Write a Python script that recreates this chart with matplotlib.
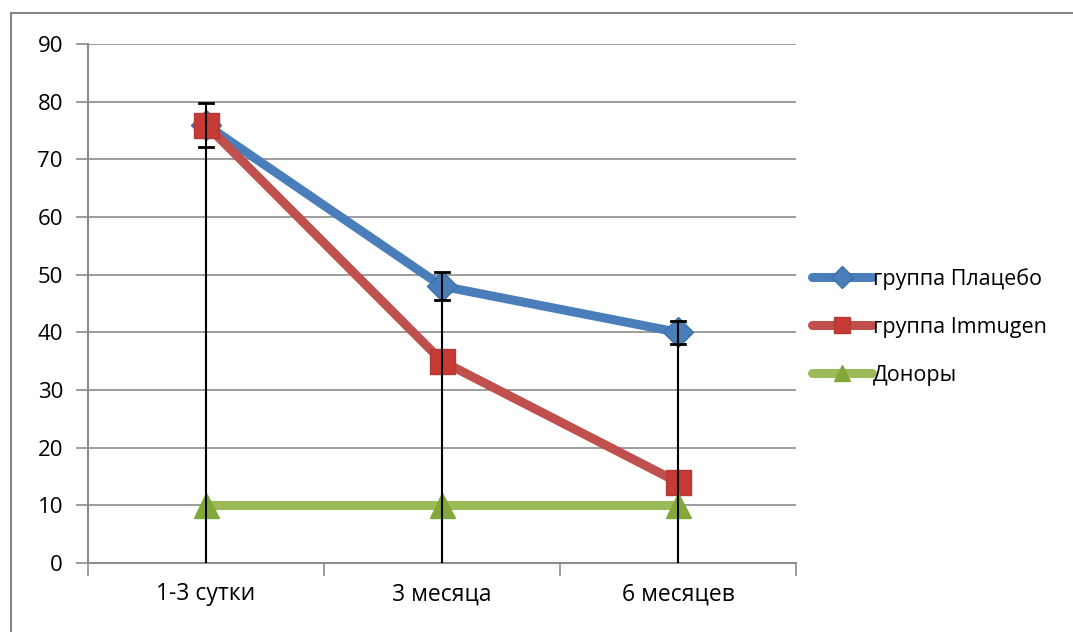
import matplotlib.pyplot as plt
import numpy as np

# data
categories = ['1-3 сутки', '3 месяца', '6 месяцев']
placebo = [76, 48, 40]
placebo_err = [3.8, 2.4, 2.0]
immugen = [76, 35, 14]
donors = [10, 10, 10]

plt.rcParams['font.family'] = ['Open Sans', 'DejaVu Sans']

fig = plt.figure(figsize=(10.73, 6.32), dpi=100)
ax = fig.add_axes([88 / 1073, 69 / 632, 708 / 1073, 519 / 632])

# outer chart border (right/bottom edges are cut off in the original)
fig.add_artist(plt.Line2D([11 / 1073, 11 / 1073], [0, 1 - 13 / 632], color='#868686', lw=1.5))
fig.add_artist(plt.Line2D([11 / 1073, 1], [1 - 13 / 632, 1 - 13 / 632], color='#868686', lw=1.5))

x = np.arange(len(categories))
grid_c = '#8c8c8c'

# error bars: line from zero up to top cap, caps at +/- err
for xi, v, e in zip(x, placebo, placebo_err):
    ax.plot([xi, xi], [0, v + e], color='black', lw=1.5, zorder=5, solid_capstyle='butt')
    for yc in (v - e, v + e):
        ax.plot([xi - 0.028, xi + 0.028], [yc, yc], color='black', lw=2, zorder=5)

ax.plot(x, placebo, color='#4a7ebb', lw=6.5, marker='D', ms=15, mfc='#4a7ebb',
        mec='#3f6fa8', label='группа Плацебо', zorder=3, solid_capstyle='round')
ax.plot(x, immugen, color='#c0504d', lw=6.5, marker='s', ms=18, mfc='#c73a36',
        mec='#b03a36', label='группа Immugen', zorder=4, solid_capstyle='round')
ax.plot(x, donors, color='#9bbb59', lw=6.5, marker='^', ms=18, mfc='#82a83c',
        mec='#82a83c', label='Доноры', zorder=4, solid_capstyle='round')

ax.set_xlim(-0.5, 2.5)
ax.set_ylim(0, 90)
ax.set_yticks(np.arange(0, 91, 10))
ax.set_xticks(x)
ax.set_xticklabels(categories)
ax.set_xticks([-0.5, 0.5, 1.5, 2.5], minor=True)
ax.tick_params(axis='x', which='major', length=0, pad=14, labelsize=16.5)
ax.tick_params(axis='x', which='minor', length=9, width=1.2, color=grid_c)
ax.tick_params(axis='y', length=9, width=1.2, color=grid_c, pad=9, labelsize=16)
ax.yaxis.grid(True, color=grid_c, lw=1.2)
ax.set_axisbelow(True)
for s in ['top', 'right']:
    ax.spines[s].set_visible(False)
for s in ['left', 'bottom']:
    ax.spines[s].set_color(grid_c)
    ax.spines[s].set_linewidth(1.5)

leg = ax.legend(loc='center left', bbox_to_anchor=(1.01, 0.455), frameon=False,
                fontsize=15.5, handlelength=2.8, handletextpad=0.05, labelspacing=1.25,
                borderaxespad=0)
for h in leg.legend_handles:
    h.set_markersize(11)

fig.savefig('out.png', dpi=100)
